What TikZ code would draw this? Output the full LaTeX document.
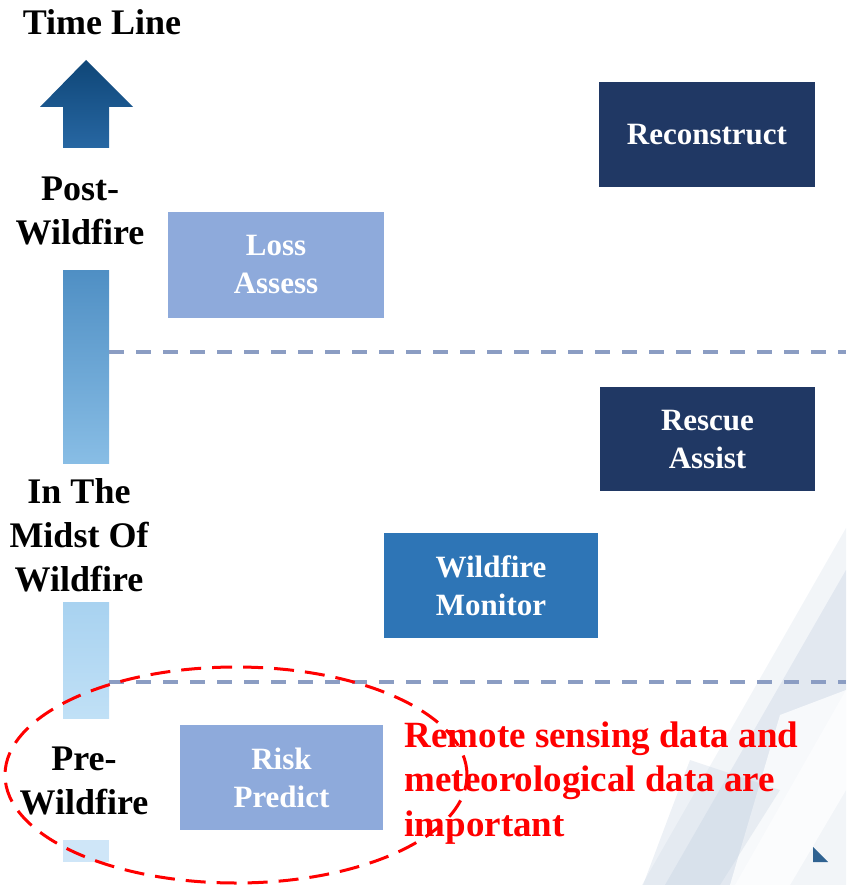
\documentclass[tikz,border=0pt]{standalone}
\usepackage{fontspec}
\setmainfont{Liberation Serif}
\usetikzlibrary{positioning,shapes.geometric}
\definecolor{navy}{HTML}{203864}
\definecolor{paleblue}{HTML}{8EAADB}
\definecolor{midblue}{HTML}{2E75B6}
\definecolor{sepline}{HTML}{8B9DC3}
\definecolor{arrowtop}{HTML}{0F4677}
\definecolor{arrowbot}{HTML}{2767A3}
\definecolor{barA}{HTML}{4F8FC4}
\definecolor{barB}{HTML}{88BDE5}
\definecolor{barC}{HTML}{A8D2F0}
\definecolor{barD}{HTML}{C0E0F6}
\definecolor{barE}{HTML}{CFE6F8}
\definecolor{decor}{HTML}{C3D0E0}
\definecolor{cornerblue}{HTML}{2F6291}

\begin{document}
\begin{tikzpicture}[x=1pt, y=-1pt,
  stage/.style={align=center, font=\fontsize{36}{44}\selectfont\bfseries},
  task/.style={rectangle, minimum width=216pt, minimum height=105pt, inner sep=0pt, text=white, align=center, font=\fontsize{31}{38}\selectfont\bfseries},
  barseg/.style={rectangle, minimum width=46pt, inner sep=0pt},
  sep/.style={sepline, line width=3.5pt, dash pattern=on 15pt off 12pt}]
  \useasboundingbox (0,0) rectangle (846,885);

  % background corner
  \fill[decor, opacity=0.22] (846,528) -- (846,885) -- (642,885) -- cycle;
  \fill[decor, opacity=0.35] (846,570) -- (846,690) -- (735,885) -- (665,885) -- cycle;
  \fill[white, opacity=0.75] (780,715) -- (846,690) -- (846,790) -- (790,885) -- (730,885) -- cycle;
  \fill[decor, opacity=0.3] (690,760) -- (780,790) -- (720,885) -- (643,885) -- cycle;
  \fill[cornerblue] (813,847) -- (813,862) -- (828,862) -- cycle;

  % time axis
  \node[stage] (title) at (102,22) {Time Line};
  \shade[top color=arrowtop, bottom color=arrowbot] (86,60) -- (133,107) -- (109,107) -- (109,148) -- (63,148) -- (63,107) -- (40,107) -- cycle;
  \node[stage] (post) at (80,211) {Post-\\Wildfire};
  \node[stage] (midst) at (79,535) {In The\\Midst Of\\Wildfire};
  \node[stage] (pre) at (84,781) {Pre-\\Wildfire};
  \node[barseg, minimum height=193pt, top color=barA, bottom color=barB] (bar1) at (86,366.5) {};
  \node[barseg, minimum height=116pt, top color=barC, bottom color=barD] (bar2) at (86,660) {};
  \node[barseg, minimum height=22pt, fill=barE] (bar3) at (86,851) {};

  % phase separators
  \coordinate (sepA) at (846,352);
  \coordinate (sepB) at (846,682);
  \draw[sep] (bar1.east |- sepA) -- (sepA);
  \draw[sep] (bar2.east |- sepB) -- (sepB);

  % tasks
  \node[task, fill=navy] (recon) at (707,134.5) {Reconstruct};
  \node[task, fill=paleblue, minimum height=106pt] (loss) at (276,265) {Loss\\Assess};
  \node[task, fill=navy, minimum width=215pt, minimum height=104pt] (rescue) at (707.5,439) {Rescue\\Assist};
  \node[task, fill=midblue, minimum width=214pt] (monitor) at (491,585.5) {Wildfire\\Monitor};
  \node[task, fill=paleblue, minimum width=203pt] (risk) at (281.5,777.5) {Risk\\Predict};

  % note
  \node[ellipse, draw=red, line width=3pt, dash pattern=on 20pt off 11pt, minimum width=462pt, minimum height=216pt] (focus) at (236,775) {};
  \node[anchor=west, align=left, text=red, font=\fontsize{37}{44.5}\selectfont\bfseries] (note) at (401,783) {Remote sensing data and\\meteorological data are\\important};
\end{tikzpicture}
\end{document}
